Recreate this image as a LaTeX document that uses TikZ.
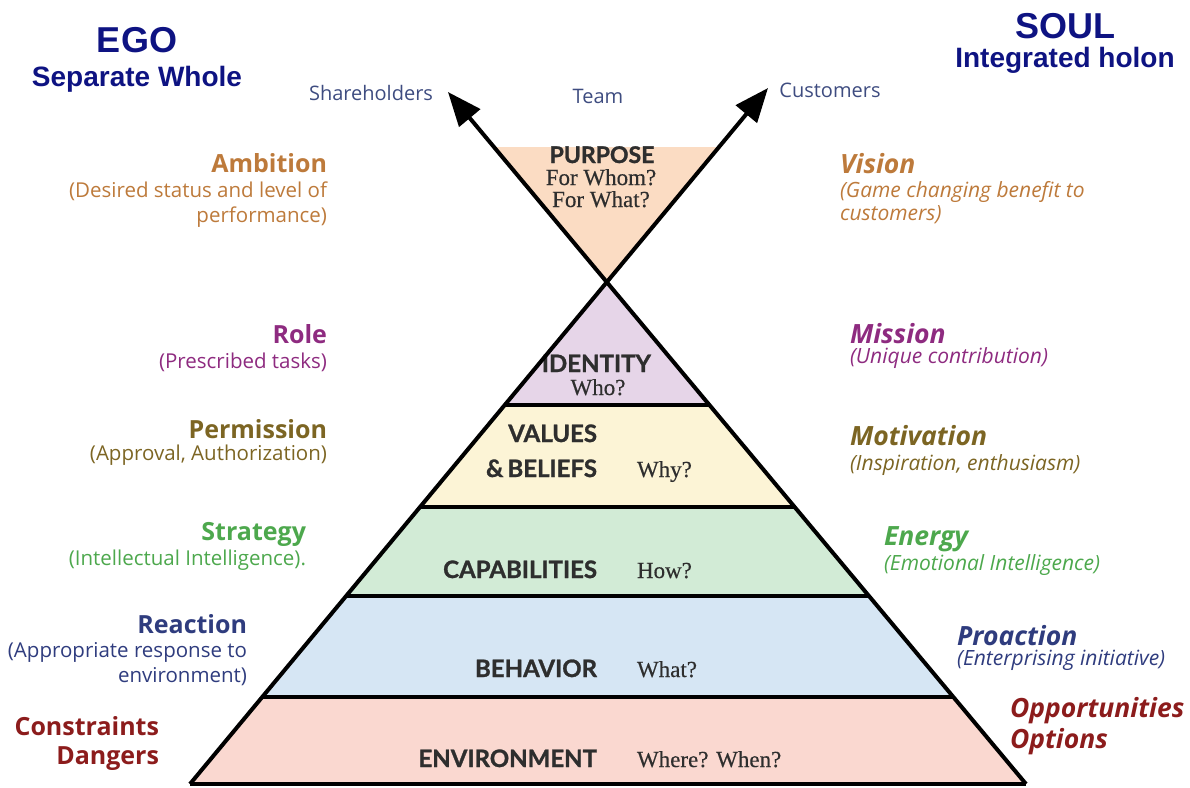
\documentclass[tikz,border=0pt]{standalone}
\usepackage{fontspec}
\usetikzlibrary{arrows.meta}
\setmainfont{Open Sans}
\newfontfamily\headfont{Liberation Sans}
\newfontfamily\tierfont[BoldFeatures={FakeBold=1.2}]{Lato}
\newfontfamily\askfont[FakeBold=0.4]{Liberation Serif}

% palette
\definecolor{navyhead}{HTML}{0E1382}
\definecolor{slate}{HTML}{3E4C80}
\definecolor{amber}{HTML}{BD7A3B}
\definecolor{plum}{HTML}{8E2B80}
\definecolor{olive}{HTML}{7C6523}
\definecolor{leaf}{HTML}{4DA84D}
\definecolor{ink}{HTML}{2F3C7E}
\definecolor{brick}{HTML}{8C1C1C}
\definecolor{tiergray}{HTML}{2E2E2E}
\definecolor{purposefill}{HTML}{FBDCC3}
\definecolor{identityfill}{HTML}{E6D5E8}
\definecolor{valuesfill}{HTML}{FCF4D6}
\definecolor{capfill}{HTML}{D2EBD6}
\definecolor{behavfill}{HTML}{D6E6F4}
\definecolor{envfill}{HTML}{FAD8D0}

\tikzset{
  txt/.style={inner sep=0pt, outer sep=0pt},
  bighead/.style={txt, anchor=base, text=navyhead, font=\headfont\bfseries\fontsize{36}{40}\selectfont},
  subhead/.style={txt, anchor=base, text=navyhead, font=\headfont\bfseries\fontsize{28}{32}\selectfont},
  party/.style={txt, anchor=base, text=slate, font=\fontsize{20}{24}\selectfont},
  lhead/.style={txt, anchor=base east, font=\bfseries\fontsize{25}{30}\selectfont},
  lsub/.style={txt, anchor=base east, font=\fontsize{20.5}{24}\selectfont},
  rhead/.style={txt, anchor=base west, font=\bfseries\itshape\fontsize{26.5}{30}\selectfont},
  rsub/.style={txt, anchor=base west, font=\itshape\fontsize{21}{24}\selectfont},
  tier/.style={txt, anchor=base east, text=tiergray, font=\tierfont\bfseries\fontsize{24}{28}\selectfont},
  ask/.style={txt, anchor=base west, text=tiergray, font=\askfont\fontsize{23}{26}\selectfont},
  sideline/.style={line width=4pt, black},
  tipped/.style={sideline, -{Triangle[length=34pt,width=27pt]}},
}

\begin{document}
\begin{tikzpicture}[x=1pt, y=-1pt]
\useasboundingbox (0,0) rectangle (1190,787);

% pyramid frame
\coordinate (apex) at (607,282);
\coordinate (baseL) at (190,784);
\coordinate (baseR) at (1026,784);
\coordinate (tipR) at (768,88);
\coordinate (tipL) at (448,92);

% purpose funnel above the apex
\fill[purposefill] (494,147) -- (719,147) -- (apex) -- cycle;

% tier bands
\begin{scope}
  \clip (apex) -- (baseL) -- (baseR) -- cycle;
  \fill[identityfill] (0,270) rectangle (1190,405);
  \fill[valuesfill]   (0,405) rectangle (1190,507);
  \fill[capfill]      (0,507) rectangle (1190,596);
  \fill[behavfill]    (0,596) rectangle (1190,697);
  \fill[envfill]      (0,697) rectangle (1190,790);
\end{scope}

% tier labels
\node[txt, anchor=base, text=tiergray, font=\tierfont\bfseries\fontsize{23}{26}\selectfont] (purpose) at (602,163) {PURPOSE};
\node[ask, anchor=base] (forwhom) at (601,185) {For Whom?};
\node[ask, anchor=base] (forwhat) at (601,207) {For What?};

\node[tier] (identity) at (651,372) {IDENTITY};
\node[ask, anchor=base] (who) at (598,395) {Who?};
\node[tier] (values) at (597,442) {VALUES};
\node[tier] (beliefs) at (597,477) {\&\,BELIEFS};
\node[ask] (why) at (637,477) {Why?};
\node[tier] (capab) at (597,578) {CAPABILITIES};
\node[ask] (how) at (637,578) {How?};
\node[tier] (behav) at (597,677) {BEHAVIOR};
\node[ask] (what) at (637,677) {What?};
\node[tier] (environ) at (597,767) {ENVIRONMENT};
\node[ask] (wherewhen) at (637,767) {Where? When?};

% dividers between tiers
\begin{scope}
  \clip (apex) -- (baseL) -- (baseR) -- cycle;
  \foreach \yy in {405,507,596,697}
    \draw[sideline] (0,\yy) -- (1190,\yy);
\end{scope}
\draw[sideline] (baseL) -- (baseR);

% sides, extended past the apex into arrows
\draw[tipped] (baseL) -- (tipR);
\draw[tipped] (baseR) -- (tipL);

% column headings
\node[bighead] (ego) at (137,52) {EGO};
\node[subhead] (egosub) at (137,86) {Separate Whole};
\node[bighead] (soul) at (1065,38) {SOUL};
\node[subhead] (soulsub) at (1065,67) {Integrated holon};

% stakeholders
\node[party] (share) at (371,100) {Shareholders};
\node[party] (team) at (598,103) {Team};
\node[party] (cust) at (830,97) {Customers};

% left column
\node[lhead, text=amber] (ambition) at (327,172) {Ambition};
\node[lsub, text=amber] (ambition1) at (327,197) {(Desired status and level of};
\node[lsub, text=amber] (ambition2) at (327,222) {performance)};
\node[lhead, text=plum] (role) at (327,343) {Role};
\node[lsub, text=plum] (role1) at (327,368) {(Prescribed tasks)};
\node[lhead, text=olive] (permission) at (327,438) {Permission};
\node[lsub, text=olive] (permission1) at (327,460) {(Approval, Authorization)};
\node[lhead, text=leaf] (strategy) at (306,540) {Strategy};
\node[lsub, text=leaf] (strategy1) at (306,565) {(Intellectual Intelligence).};
\node[lhead, text=ink] (reaction) at (247,633) {Reaction};
\node[lsub, text=ink] (reaction1) at (247,657) {(Appropriate response to};
\node[lsub, text=ink] (reaction2) at (247,682) {environment)};
\node[lhead, text=brick] (constraints) at (159,735) {Constraints};
\node[lhead, text=brick] (dangers) at (159,764) {Dangers};

% right column
\node[rhead, text=amber] (vision) at (840,173) {Vision};
\node[rsub, text=amber] (vision1) at (840,197) {(Game changing benefit to};
\node[rsub, text=amber] (vision2) at (840,220) {customers)};
\node[rhead, text=plum] (mission) at (850,343) {Mission};
\node[rsub, text=plum] (mission1) at (850,363) {(Unique contribution)};
\node[rhead, text=olive] (motivation) at (850,445) {Motivation};
\node[rsub, text=olive] (motivation1) at (850,470) {(Inspiration, enthusiasm)};
\node[rhead, text=leaf] (energy) at (884,545) {Energy};
\node[rsub, text=leaf] (energy1) at (884,570) {(Emotional Intelligence)};
\node[rhead, text=ink] (proaction) at (957,645) {Proaction};
\node[rsub, text=ink] (proaction1) at (957,665) {(Enterprising initiative)};
\node[rhead, text=brick] (opport) at (1010,717) {Opportunities};
\node[rhead, text=brick] (options) at (1010,748) {Options};
\end{tikzpicture}
\end{document}
